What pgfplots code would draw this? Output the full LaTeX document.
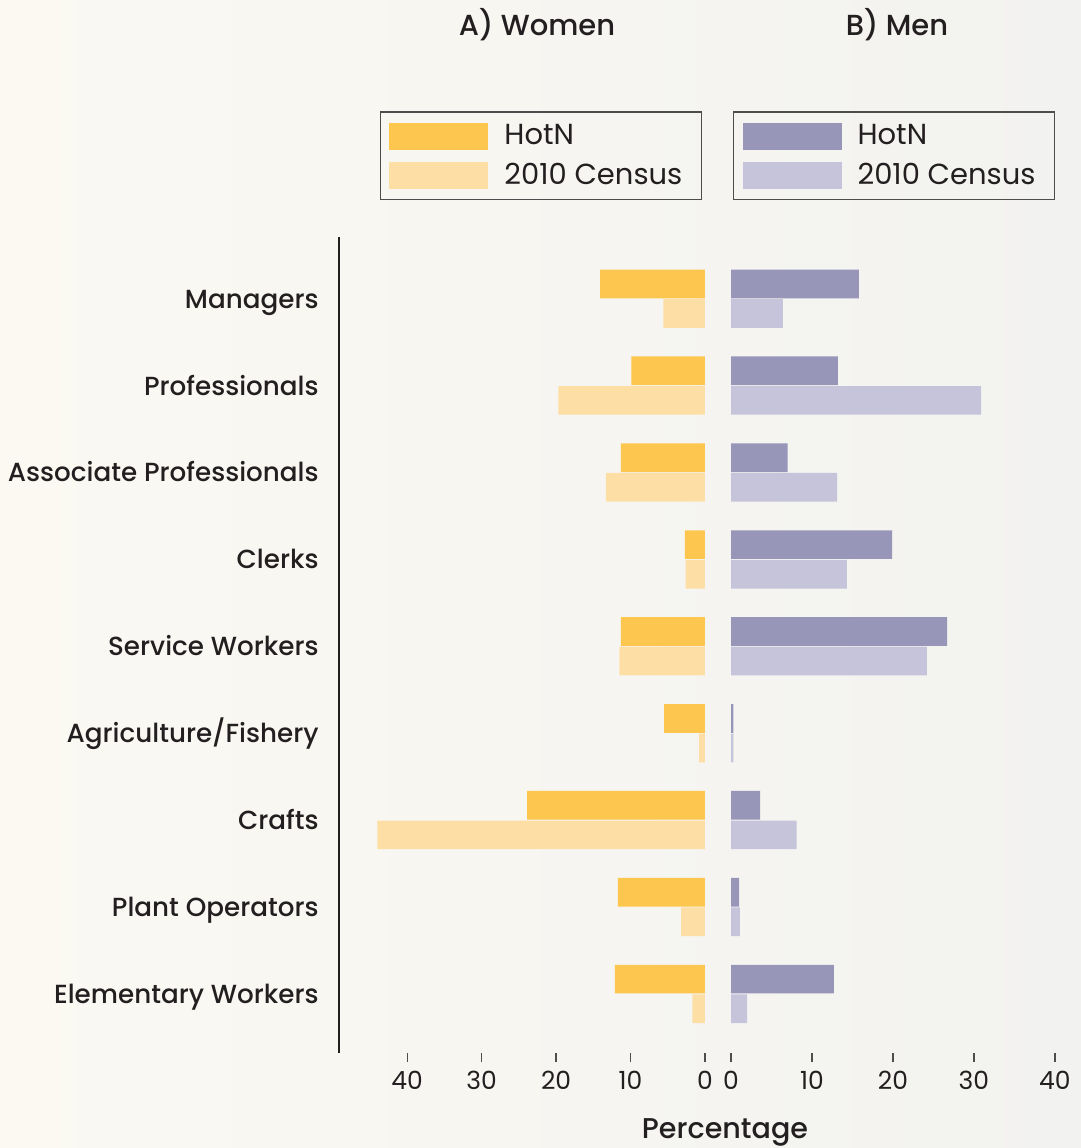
\documentclass[border=0pt]{standalone}
\usepackage{pgfplots}
\usepackage{pgfplotstable}
\pgfplotsset{compat=1.18}
\usepackage{fontspec}
\setmainfont{Poppins}
\newfontfamily\medfont{Poppins Medium}

\definecolor{wHot}{HTML}{FDC64E}
\definecolor{wCen}{HTML}{FDDFA6}
\definecolor{mHot}{HTML}{9896B8}
\definecolor{mCen}{HTML}{C6C4DA}
\definecolor{txt}{HTML}{231F20}
\definecolor{bgL}{HTML}{FBF9F2}
\definecolor{bgR}{HTML}{F2F2F0}

\pgfplotstableread{
y hotn census
0 14.1 5.6
1 9.9 19.7
2 11.3 13.3
3 2.7 2.6
4 11.3 11.5
5 5.5 0.8
6 23.9 44.0
7 11.7 3.2
8 12.1 1.7
}\women

\pgfplotstableread{
y hotn census
0 15.8 6.4
1 13.2 30.9
2 7.0 13.1
3 19.9 14.3
4 26.7 24.2
5 0.3 0.3
6 3.6 8.1
7 1.0 1.1
8 12.7 2.0
}\men

\pgfplotsset{
  myaxis/.style={
    scale only axis,
    height=408pt,
    ymin=-0.71, ymax=8.68,
    y dir=reverse,
    enlargelimits=false,
    axis line style={draw=none},
    xtick pos=left,
    tick align=outside,
    major tick length=4.5pt,
    xtick style={draw=txt!80, line width=0.6pt},
    ytick style={draw=none},
    xtick={0,10,20,30,40},
    xticklabel style={font=\fontsize{12.5}{15}\selectfont, text=txt, yshift=-1pt},
    /pgf/number format/assume math mode=true,
    clip=false,
    legend cell align=left,
    legend image code/.code={\fill[##1] (0pt,-6.75pt) rectangle (49.5pt,6.75pt); \path (52.5pt,0pt);},
    legend style={draw=txt!80, line width=0.6pt, fill=none,
      font=\fontsize{14.5}{17}\selectfont, text=txt,
      inner xsep=4.5pt, inner ysep=4.3pt, row sep=3.5pt,
      nodes={inner xsep=5pt}},
  }
}

\begin{document}
\begin{tikzpicture}
\shade[left color=bgL, right color=bgR] (0pt,0pt) rectangle (540.5pt,574pt);
\useasboundingbox (0pt,0pt) rectangle (540.5pt,574pt);

\begin{axis}[myaxis,
  at={(185pt,47.5pt)}, anchor=south west,
  width=167.5pt,
  xmin=0, xmax=45, x dir=reverse,
  ytick={0,...,8},
  yticklabels={Managers,Professionals,Associate Professionals,Clerks,Service Workers,Agriculture/Fishery,Crafts,Plant Operators,Elementary Workers},
  yticklabel style={font=\medfont\fontsize{13.1}{15}\selectfont, text=txt, anchor=base east, inner xsep=0pt, xshift=-21pt, yshift=-4.7pt},
  legend style={at={(1,1)}, anchor=south east, xshift=-1.5pt, yshift=18.3pt},
]
\addplot[xbar, bar width=0.33, bar shift=-0.17, fill=wHot, draw=none] table[x=hotn, y=y]{\women};
\addlegendentry{HotN}
\addplot[xbar, bar width=0.33, bar shift=0.17, fill=wCen, draw=none] table[x=census, y=y]{\women};
\addlegendentry{2010 Census}
\draw[txt, line width=1pt] (axis cs:49.1,-0.71) -- (axis cs:49.1,8.68);
\end{axis}

\begin{axis}[myaxis,
  at={(365.5pt,47.5pt)}, anchor=south west,
  width=166pt,
  xmin=0, xmax=41,
  ytick=\empty,
  legend style={at={(0,1)}, anchor=south west, xshift=1pt, yshift=18.3pt},
]
\addplot[xbar, bar width=0.33, bar shift=-0.17, fill=mHot, draw=none] table[x=hotn, y=y]{\men};
\addlegendentry{HotN}
\addplot[xbar, bar width=0.33, bar shift=0.17, fill=mCen, draw=none] table[x=census, y=y]{\men};
\addlegendentry{2010 Census}
\end{axis}

\node[font=\medfont\fontsize{14.5}{17}\selectfont, text=txt] at (268.5pt,561.5pt) {A) Women};
\node[font=\medfont\fontsize{14.5}{17}\selectfont, text=txt] at (448.5pt,561.5pt) {B) Men};
\node[font=\medfont\fontsize{14.3}{17}\selectfont, text=txt, inner ysep=1pt] at (362.5pt,8pt) {Percentage};
\end{tikzpicture}
\end{document}
